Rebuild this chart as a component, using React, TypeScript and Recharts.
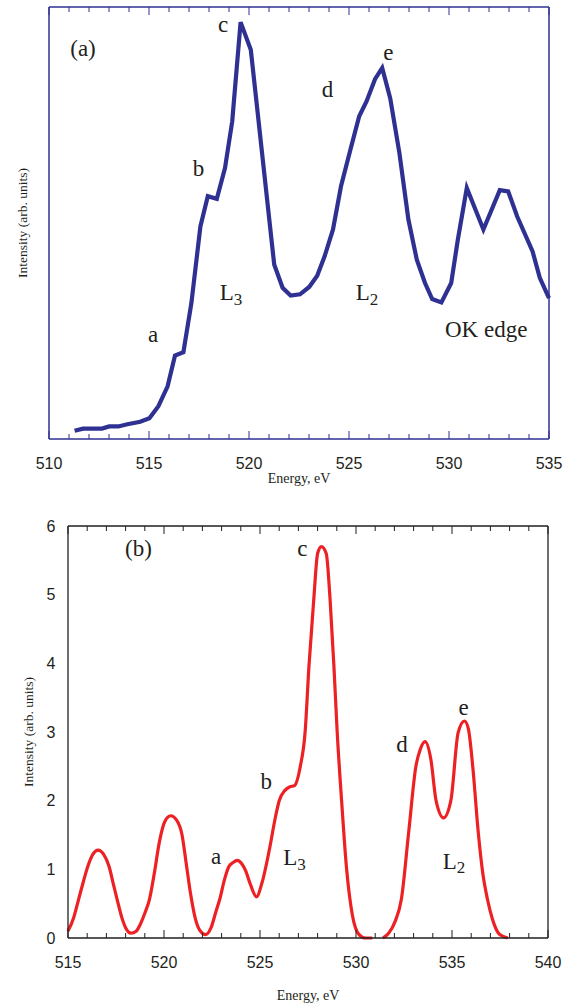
import React from 'react';
import { LineChart, Line, XAxis, YAxis, ReferenceDot } from 'recharts';

// (a) measured spectrum, energy in eV, intensity in arbitrary units (0-100 of frame)
const topEnergy = [
  511.28, 511.7, 512.65, 513.01, 513.47, 513.92, 514.56, 515.02, 515.47, 515.93,
  516.3, 516.72, 517.12, 517.57, 517.94, 518.39, 518.8, 519.16, 519.58, 520.09,
  521.26, 521.68, 522.08, 522.55, 523.01, 523.41, 523.78, 524.2, 524.6, 525.05,
  525.51, 525.88, 526.3, 526.66, 527.06, 527.52, 527.97, 528.39, 528.8, 529.16,
  529.62, 530.11, 530.44, 530.89, 531.72, 532.54, 532.96, 533.41, 534.18, 534.54,
  535.0,
];
const topIntensity = [
  1.9, 2.4, 2.4, 2.9, 2.9, 3.4, 4.0, 4.8, 7.6, 12.2,
  19.3, 20.1, 31.5, 49.2, 56.2, 55.6, 62.7, 73.5, 96.5, 90.1,
  40.4, 35.0, 33.2, 33.5, 35.2, 37.8, 42.3, 48.5, 58.5, 66.6,
  74.7, 78.2, 83.3, 85.9, 78.9, 66.2, 50.8, 41.5, 36.1, 32.4,
  31.6, 36.1, 46.1, 58.1, 48.5, 57.6, 57.3, 51.5, 43.4, 37.3,
  32.6,
];

// (b) calculated spectrum; null splits the L3 and L2 curves
const bottomEnergy = [
  515.0, 515.3, 515.55, 515.8, 516.03, 516.3, 516.57, 516.85, 517.14, 517.35,
  517.56, 517.8, 518.0, 518.28, 518.55, 518.8, 519.0, 519.24, 519.5, 519.76,
  520.05, 520.35, 520.65, 520.94, 521.15, 521.38, 521.6, 521.85, 522.18, 522.45,
  522.7, 522.9, 523.15, 523.38, 523.6, 523.82, 524.05, 524.25, 524.5, 524.82,
  525.1, 525.49, 525.81, 526.0, 526.3, 526.54, 526.8, 527.1, 527.35, 527.55,
  527.8, 528.0, 528.2, 528.45, 528.65, 528.85, 529.02, 529.25, 529.5, 529.82,
  530.16, 530.5, 530.85, 531.1, 531.4, 531.7, 532.05, 532.36, 532.74, 533.12,
  533.35, 533.6, 533.9, 534.17, 534.56, 534.94, 535.32, 535.65, 535.85, 536.08,
  536.37, 536.6, 536.85, 537.1, 537.42, 537.7, 537.9,
];
const bottomIntensity = [
  0.1, 0.3, 0.56, 0.82, 1.04, 1.22, 1.28, 1.22, 1.04, 0.8,
  0.56, 0.3, 0.15, 0.07, 0.1, 0.22, 0.36, 0.56, 0.95, 1.4,
  1.7, 1.78, 1.72, 1.5, 1.1, 0.65, 0.32, 0.12, 0.05, 0.15,
  0.38, 0.56, 0.85, 1.04, 1.1, 1.13, 1.08, 0.98, 0.78, 0.6,
  0.8, 1.29, 1.77, 2.0, 2.15, 2.2, 2.22, 2.5, 3.0, 3.96,
  4.93, 5.6, 5.7, 5.6, 4.93, 3.96, 3.0, 2.0, 1.04, 0.32,
  0.05, 0.0, 0.0, null, 0.0, 0.07, 0.25, 0.56, 1.53, 2.5,
  2.75, 2.86, 2.6, 2.0, 1.75, 2.0, 2.99, 3.16, 3.05, 2.5,
  1.53, 0.95, 0.56, 0.28, 0.07, 0.02, 0.0,
];

const topLabelTicks = [510, 515, 520, 525, 530, 535];
const bottomLabelTicks = [515, 520, 525, 530, 535, 540];
const bottomYTicks = [0, 1, 2, 3, 4, 5, 6];

const topMinorTicks = Array.from({ length: 26 }, (_, i) => 510 + i);
const bottomMinorTicks = Array.from({ length: 26 }, (_, i) => 515 + i);

const topNotes = [
  { text: '(a)', x: 511.7, y: 90.3 },
  { text: 'a', x: 515.2, y: 24.2 },
  { text: 'b', x: 517.48, y: 62.7 },
  { text: 'c', x: 518.7, y: 95.9 },
  { text: 'd', x: 523.92, y: 80.9 },
  { text: 'e', x: 526.97, y: 89.4 },
  { text: 'L', sub: '3', x: 519.1, y: 33.8 },
  { text: 'L', sub: '2', x: 525.9, y: 33.8 },
  { text: 'OK edge', x: 531.86, y: 25.3 },
];
const bottomNotes = [
  { text: '(b)', x: 518.67, y: 5.67 },
  { text: 'a', x: 522.72, y: 1.19 },
  { text: 'b', x: 525.33, y: 2.28 },
  { text: 'c', x: 527.2, y: 5.67 },
  { text: 'd', x: 532.4, y: 2.82 },
  { text: 'e', x: 535.6, y: 3.35 },
  { text: 'L', sub: '3', x: 526.8, y: 1.17 },
  { text: 'L', sub: '2', x: 535.1, y: 1.12 },
];

const topData = topEnergy.map((e, i) => ({ e, v: topIntensity[i] }));
const bottomData = bottomEnergy.map((e, i) => ({ e, v: bottomIntensity[i] }));

const SERIF = '"Liberation Serif", "Times New Roman", serif';
const SANS = '"Liberation Sans", Arial, sans-serif';
const TEXT = '#231f20';
const BLUE = '#2e3192';
const RED = '#ed2024';

const XTick = (props: any) => {
  const { x, y, payload, side, labels, color } = props;
  const v = payload.value;
  const len = v % 5 === 0 ? 8 : 5;
  const dir = side === 'bottom' ? -1 : 1;
  return (
    <g>
      <line x1={x} x2={x} y1={y} y2={y + dir * len} stroke={color} strokeWidth={1} />
      {side === 'bottom' && labels.includes(v) && (
        <text x={x} y={y + 24} textAnchor="middle" dominantBaseline="central"
          fontFamily={SANS} fontSize={16} fill={TEXT}>{v}</text>
      )}
    </g>
  );
};

const YTick = (props: any) => {
  const { x, y, payload } = props;
  return (
    <text x={x - 17} y={y} textAnchor="middle" dominantBaseline="central"
      fontFamily={SANS} fontSize={16} fill={TEXT}>{payload.value}</text>
  );
};

const noteDot = (n: any, key: string) => (
  <ReferenceDot key={key} x={n.x} y={n.y} r={1} fill="none" stroke="none" ifOverflow="visible"
    label={{
      content: (p: any) => {
        const vb = p.viewBox || {};
        const cx = vb.x + (vb.width || 0) / 2;
        const cy = vb.y + (vb.height || 0) / 2;
        return (
          <text x={cx} y={cy} textAnchor="middle" dominantBaseline="central"
            fontFamily={SERIF} fontSize={23} fill={TEXT}>
            {n.text}
            {n.sub && <tspan fontSize={17} dy={6}>{n.sub}</tspan>}
          </text>
        );
      },
    }} />
);

const yTitle = (dx: number) => (p: any) => {
  const vb = p.viewBox;
  return (
    <text transform={`translate(${vb.x + vb.width - dx}, ${vb.y + vb.height / 2}) rotate(-90)`}
      textAnchor="middle" dominantBaseline="central" fontFamily={SERIF} fontSize={13.5} fill={TEXT}>
      Intensity (arb. units)
    </text>
  );
};

const xTitle = (dy: number) => (p: any) => {
  const vb = p.viewBox;
  return (
    <text x={vb.x + vb.width / 2} y={vb.y + dy} textAnchor="middle" dominantBaseline="central"
      fontFamily={SERIF} fontSize={14} fill={TEXT}>Energy, eV</text>
  );
};

export default function App() {
  return (
    <div style={{ position: 'absolute', left: 0, top: 0, width: 572, height: 1008, background: '#fff' }}>
      <div style={{ position: 'absolute', left: 0, top: 0 }}>
        <LineChart width={572} height={500} data={topData} margin={{ top: 6, right: 22, left: 48, bottom: 31 }}>
          <XAxis dataKey="e" type="number" domain={[510, 535]} ticks={topMinorTicks} interval={0}
            height={30} tickSize={0} tickMargin={0} tickLine={false}
            axisLine={{ stroke: BLUE, strokeWidth: 1.5 }}
            tick={(p: any) => <XTick {...p} side="bottom" labels={topLabelTicks} color={BLUE} />}
            label={{ content: xTitle(39) }} />
          <XAxis xAxisId="top" orientation="top" dataKey="e" type="number" domain={[510, 535]}
            ticks={topMinorTicks} interval={0} height={1} tickSize={0} tickMargin={0} tickLine={false}
            axisLine={{ stroke: BLUE, strokeWidth: 1.5 }}
            tick={(p: any) => <XTick {...p} side="top" labels={[]} color={BLUE} />} />
          <YAxis type="number" domain={[0, 100]} width={1} tick={false} tickLine={false}
            axisLine={{ stroke: BLUE, strokeWidth: 1.5 }} label={{ content: yTitle(27) }} />
          <YAxis yAxisId="right" orientation="right" type="number" domain={[0, 100]} width={1}
            tick={false} tickLine={false} axisLine={{ stroke: BLUE, strokeWidth: 1.5 }} />
          <Line type="linear" dataKey="v" stroke={BLUE} strokeWidth={4.2} dot={false}
            strokeLinejoin="miter" isAnimationActive={false} />
          {topNotes.map((n, i) => noteDot(n, 't' + i))}
        </LineChart>
      </div>
      <div style={{ position: 'absolute', left: 0, top: 500 }}>
        <LineChart width={572} height={508} data={bottomData} margin={{ top: 25, right: 23, left: 67, bottom: 40 }}>
          <XAxis dataKey="e" type="number" domain={[515, 540]} ticks={bottomMinorTicks} interval={0}
            height={30} tickSize={0} tickMargin={0} tickLine={false}
            axisLine={{ stroke: TEXT, strokeWidth: 1.3 }}
            tick={(p: any) => <XTick {...p} side="bottom" labels={bottomLabelTicks} color={TEXT} />}
            label={{ content: xTitle(57) }} />
          <XAxis xAxisId="top" orientation="top" dataKey="e" type="number" domain={[515, 540]}
            ticks={bottomMinorTicks} interval={0} height={1} tickSize={0} tickMargin={0} tickLine={false}
            axisLine={{ stroke: TEXT, strokeWidth: 1.3 }}
            tick={(p: any) => <XTick {...p} side="top" labels={[]} color={TEXT} />} />
          <YAxis type="number" domain={[0, 6]} ticks={bottomYTicks} interval={0} width={1}
            tickSize={0} tickMargin={0} tickLine={false} axisLine={{ stroke: TEXT, strokeWidth: 1.3 }}
            tick={(p: any) => <YTick {...p} />} label={{ content: yTitle(40) }} />
          <YAxis yAxisId="right" orientation="right" type="number" domain={[0, 6]} width={1}
            tick={false} tickLine={false} axisLine={{ stroke: TEXT, strokeWidth: 1.3 }} />
          <Line type="monotone" dataKey="v" stroke={RED} strokeWidth={3.2} dot={false}
            connectNulls={false} isAnimationActive={false} />
          {bottomNotes.map((n, i) => noteDot(n, 'b' + i))}
        </LineChart>
      </div>
    </div>
  );
}
